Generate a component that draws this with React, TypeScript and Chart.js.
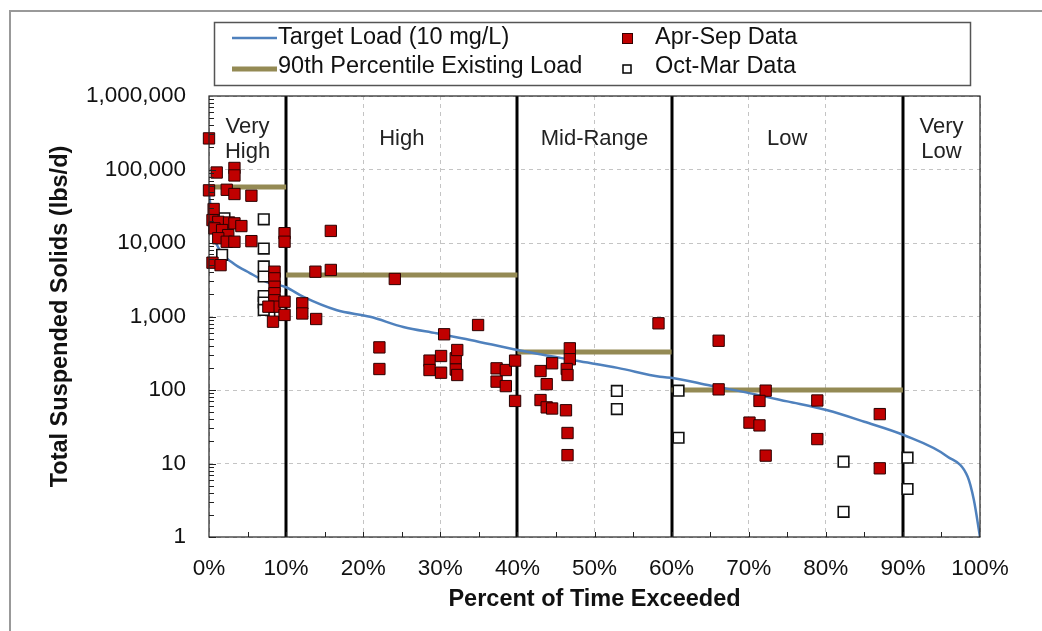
import React, { useEffect, useRef } from 'react';
import { Chart, registerables } from 'chart.js';
Chart.register(...registerables);

const FONT = 'Arial, "Liberation Sans", Helvetica, sans-serif';

// Target load duration curve (10 mg/L)
const targetPct = [0, 0.1, 0.5, 1.4, 3.1, 5.3, 7.5, 10, 12.2, 16.5, 20.9, 25.2, 29.5, 33.9, 40, 47.7, 53, 58.5, 60.3, 65, 70.2, 75, 80.2, 85, 90.1, 95.8, 98.4, 99.2, 100];
const targetLoad = [45000, 38500, 15000, 8000, 5350, 3900, 2950, 2500, 1860, 1225, 990, 720, 590, 480, 350, 250, 200, 151, 145, 115, 90, 70, 53, 37, 24.4, 12.4, 6.6, 3.2, 1];

// Apr-Sep observations
const aprSepPct = [0, 1.0, 3.3, 3.3, 0, 2.3, 3.3, 5.5, 0.6, 0.45, 1.2, 2.6, 3.3, 4.2, 0.7, 1.7, 2.5, 1.2, 2.3, 3.3, 5.5, 0.45, 1.5, 8.5, 8.5, 8.5, 8.5, 9.8, 9.8, 8.5, 8.5, 7.7, 9.8, 9.8, 8.3,
  12.1, 12.1, 13.9, 13.8, 15.8, 15.8, 24.1, 22.1, 22.1, 28.6, 28.6, 30.1, 30.1, 30.5, 32.0, 32.0, 32.2, 32.2, 34.9, 37.3, 37.3, 38.5, 38.5, 39.7, 39.7,
  43.0, 43.0, 44.5, 43.8, 43.8, 44.5, 46.8, 46.8, 46.4, 46.5, 46.3, 46.5, 46.5, 58.3,
  66.1, 66.1, 72.2, 71.4, 70.1, 71.4, 72.2, 78.9, 78.9, 87.0, 87.0];
const aprSepLoad = [265000, 91000, 105000, 83000, 52000, 53000, 46400, 44000, 29000, 20500, 19400, 19000, 18500, 17000, 15800, 15000, 12800, 11600, 10400, 10400, 10600, 5400, 5000, 4070, 3300, 2540, 2070, 13600, 10400, 1660, 1360, 1360, 1590, 1050, 850,
  1510, 1100, 925, 4070, 4300, 14600, 3240, 380, 193, 251, 187, 290, 172, 573, 270, 190, 350, 160, 766, 197, 130, 187, 113, 251, 71,
  181, 73, 231, 120, 58, 56, 369, 262, 193, 160, 53, 26, 13, 808,
  468, 102, 98, 71, 36, 33, 12.8, 72, 21.5, 47, 8.6];

// Oct-Mar observations
const octMarPct = [2.0, 1.7, 7.1, 7.1, 7.1, 7.1, 7.1, 7.1, 7.1, 9.2, 52.9, 52.9, 60.9, 60.9, 82.3, 82.3, 90.6, 90.6];
const octMarLoad = [21700, 6900, 21000, 8400, 4800, 3500, 1900, 1550, 1230, 1150, 97, 55, 98, 22.4, 10.6, 2.2, 12, 4.5];

// Flow zones and 90th percentile existing loads
const zoneBounds = [0, 10, 40, 60, 90, 100];
const zoneNames = [['Very', 'High'], ['High'], ['Mid-Range'], ['Low'], ['Very', 'Low']];
const p90Load = [57700, 3670, 329, 100];

const yTickValues = [1, 10, 100, 1000, 10000, 100000, 1000000];

const BLUE = '#4F81BD';
const OLIVE = '#948A54';
const RED = '#C00000';

const decorPlugin = {
  id: 'decor',
  beforeDatasetsDraw(chart: any) {
    const { ctx, chartArea: a, scales } = chart;
    const x = scales.x;
    ctx.save();
    ctx.strokeStyle = '#000';
    ctx.lineWidth = 3;
    zoneBounds.slice(1, -1).forEach((b) => {
      const px = Math.round(x.getPixelForValue(b));
      ctx.beginPath();
      ctx.moveTo(px, a.top);
      ctx.lineTo(px, a.bottom);
      ctx.stroke();
    });
    ctx.restore();
  },
  afterDraw(chart: any) {
    const { ctx, chartArea: a, scales } = chart;
    const x = scales.x;
    const y = scales.y;
    ctx.save();
    // plot border
    ctx.strokeStyle = '#222';
    ctx.lineWidth = 1.2;
    ctx.strokeRect(a.left, a.top, a.right - a.left, a.bottom - a.top);
    // x minor ticks
    ctx.lineWidth = 1;
    for (let p = 5; p < 100; p += 5) {
      const px = Math.round(x.getPixelForValue(p)) + 0.5;
      ctx.beginPath();
      ctx.moveTo(px, a.bottom);
      ctx.lineTo(px, a.bottom - 5);
      ctx.stroke();
    }
    // y minor ticks
    for (let d = 1; d < 1000000; d *= 10) {
      for (let m = 1; m <= 9; m++) {
        const py = Math.round(y.getPixelForValue(m * d)) + 0.5;
        ctx.beginPath();
        ctx.moveTo(a.left, py);
        ctx.lineTo(a.left + (m === 1 ? 7 : 5), py);
        ctx.stroke();
      }
    }
    // zone labels
    ctx.fillStyle = '#222';
    ctx.font = `22px ${FONT}`;
    ctx.textAlign = 'center';
    ctx.textBaseline = 'middle';
    zoneNames.forEach((lines, i) => {
      const cx = (x.getPixelForValue(zoneBounds[i]) + x.getPixelForValue(zoneBounds[i + 1])) / 2;
      if (lines.length === 2) {
        ctx.fillText(lines[0], cx, a.top + 31);
        ctx.fillText(lines[1], cx, a.top + 56);
      } else {
        ctx.fillText(lines[0], cx, a.top + 43);
      }
    });
    // legend
    ctx.strokeStyle = '#555';
    ctx.lineWidth = 1.5;
    ctx.strokeRect(214.5, 22.5, 756, 63);
    const r1 = 38;
    const r2 = 69;
    ctx.lineWidth = 2.5;
    ctx.strokeStyle = BLUE;
    ctx.beginPath();
    ctx.moveTo(232, r1);
    ctx.lineTo(277, r1);
    ctx.stroke();
    ctx.lineWidth = 5;
    ctx.strokeStyle = OLIVE;
    ctx.beginPath();
    ctx.moveTo(232, r2);
    ctx.lineTo(277, r2);
    ctx.stroke();
    ctx.fillStyle = RED;
    ctx.fillRect(623, r1 - 4, 9, 9);
    ctx.strokeStyle = '#300';
    ctx.lineWidth = 1;
    ctx.strokeRect(622.5, r1 - 4.5, 10, 10);
    ctx.fillStyle = '#fff';
    ctx.strokeStyle = '#000';
    ctx.lineWidth = 1.5;
    ctx.fillRect(623, r2 - 4, 8, 8);
    ctx.strokeRect(623, r2 - 4, 8, 8);
    ctx.fillStyle = '#111';
    ctx.textAlign = 'left';
    ctx.font = `23.5px ${FONT}`;
    ctx.fillText('Target Load (10 mg/L)', 278, r1);
    ctx.fillText('90th Percentile Existing Load', 278, r2 - 2);
    ctx.fillText('Apr-Sep Data', 655, r1);
    ctx.fillText('Oct-Mar Data', 655, r2 - 2);
    ctx.restore();
  },
};

export default function App() {
  const canvasRef = useRef<HTMLCanvasElement | null>(null);

  useEffect(() => {
    document.body.style.margin = '0';
    const canvas = canvasRef.current;
    if (!canvas) return;

    const p90Datasets = p90Load.map((v, i) => ({
      type: 'line' as const,
      label: '90th Percentile Existing Load',
      data: [
        { x: zoneBounds[i], y: v },
        { x: zoneBounds[i + 1], y: v },
      ],
      borderColor: OLIVE,
      borderWidth: 5,
      pointRadius: 0,
      showLine: true,
      order: 2,
    }));

    const chart = new Chart(canvas, {
      type: 'scatter',
      data: {
        datasets: [
          {
            label: 'Apr-Sep Data',
            data: aprSepPct.map((p, i) => ({ x: p, y: aprSepLoad[i] })),
            pointStyle: 'rect',
            pointRadius: 8,
            backgroundColor: RED,
            borderColor: '#2a0000',
            borderWidth: 1,
            clip: false,
            order: 0,
          } as any,
          {
            label: 'Oct-Mar Data',
            data: octMarPct.map((p, i) => ({ x: p, y: octMarLoad[i] })),
            pointStyle: 'rect',
            pointRadius: 7.5,
            backgroundColor: '#fff',
            borderColor: '#111',
            borderWidth: 1.6,
            clip: false,
            order: 0,
          } as any,
          {
            type: 'line',
            label: 'Target Load (10 mg/L)',
            data: targetPct.map((p, i) => ({ x: p, y: targetLoad[i] })),
            borderColor: BLUE,
            borderWidth: 2.5,
            pointRadius: 0,
            showLine: true,
            cubicInterpolationMode: 'monotone',
            order: 1,
          } as any,
          ...p90Datasets,
        ],
      },
      options: {
        responsive: false,
        animation: false,
        events: [],
        layout: { padding: { left: 0, right: 62, top: 96, bottom: 0 } },
        plugins: {
          legend: { display: false },
          tooltip: { enabled: false },
        },
        scales: {
          x: {
            type: 'linear',
            min: 0,
            max: 100,
            afterFit: (s: any) => {
              s.height = 94;
            },
            ticks: {
              stepSize: 10,
              padding: 18,
              color: '#111',
              font: { family: FONT, size: 22.5 },
              callback: (v: any) => `${v}%`,
            },
            grid: { color: '#c4c4c4', lineWidth: 1, drawTicks: false },
            border: { display: false, dash: [4, 4] },
            title: {
              display: true,
              text: 'Percent of Time Exceeded',
              color: '#111',
              font: { family: FONT, size: 23.5, weight: 'bold' },
              padding: { top: 0, bottom: 17 },
            },
          },
          y: {
            type: 'logarithmic',
            min: 1,
            max: 1000000,
            afterFit: (s: any) => {
              s.width = 209;
            },
            afterBuildTicks: (s: any) => {
              s.ticks = yTickValues.map((v) => ({ value: v }));
            },
            ticks: {
              padding: 23,
              color: '#111',
              font: { family: FONT, size: 22.5 },
              callback: (v: any) => Number(v).toLocaleString('en-US'),
            },
            grid: { color: '#c4c4c4', lineWidth: 1, drawTicks: false },
            border: { display: false, dash: [4, 4] },
            title: {
              display: true,
              text: 'Total Suspended Solids (lbs/d)',
              color: '#111',
              font: { family: FONT, size: 23.5, weight: 'bold' },
              padding: { top: 46, bottom: 0 },
            },
          },
        },
      },
      plugins: [decorPlugin],
    });

    return () => {
      chart.destroy();
    };
  }, []);

  return (
    <div style={{ position: 'relative', width: 1042, height: 631, background: '#fff', overflow: 'hidden' }}>
      <canvas ref={canvasRef} width={1042} height={631} style={{ display: 'block' }} />
      <div
        style={{
          position: 'absolute',
          left: 9,
          top: 10,
          right: -5,
          bottom: -5,
          borderTop: '2px solid #999',
          borderLeft: '2px solid #999',
          pointerEvents: 'none',
        }}
      />
    </div>
  );
}
